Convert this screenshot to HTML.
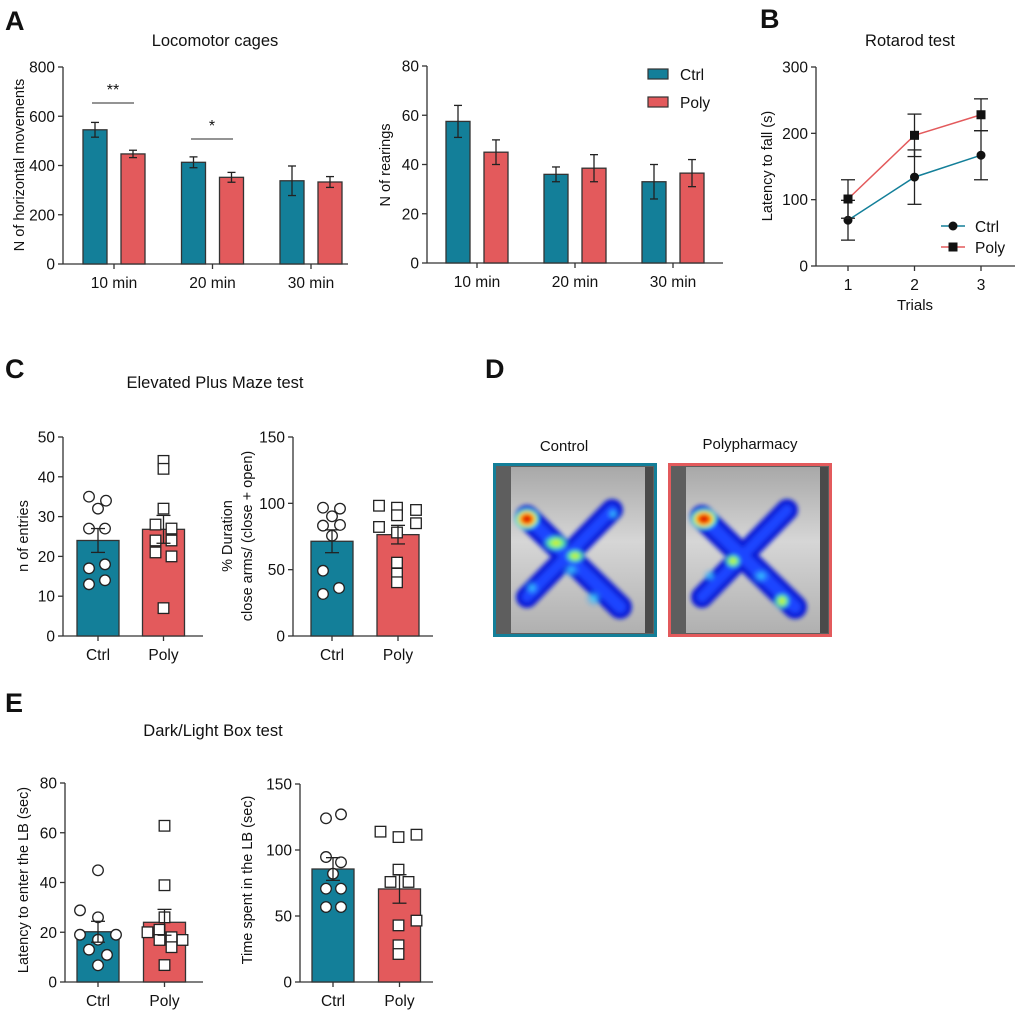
<!DOCTYPE html>
<html><head><meta charset="utf-8"><style>
body{margin:0;background:#fff}
svg text{font-family:"Liberation Sans",Arial,sans-serif;fill:#111}
</style></head><body>
<svg id="fig" width="1020" height="1014" viewBox="0 0 1020 1014" xmlns="http://www.w3.org/2000/svg">
<defs>
<filter id="blur2" filterUnits="userSpaceOnUse" x="-10" y="-10" width="190" height="200"><feGaussianBlur stdDeviation="2"/></filter>
<radialGradient id="hotR"><stop offset="0" stop-color="#b00000"/><stop offset="0.35" stop-color="#ff3a00"/><stop offset="0.6" stop-color="#ffe000"/><stop offset="0.8" stop-color="#30ffd0"/><stop offset="1" stop-color="#30a0ff" stop-opacity="0"/></radialGradient>
<radialGradient id="hotY"><stop offset="0" stop-color="#ffe000"/><stop offset="0.5" stop-color="#60ff90"/><stop offset="1" stop-color="#20a0ff" stop-opacity="0"/></radialGradient>
<radialGradient id="hotC"><stop offset="0" stop-color="#40e0ff"/><stop offset="1" stop-color="#2080ff" stop-opacity="0"/></radialGradient>
<linearGradient id="floor" x1="0" y1="0" x2="0" y2="1"><stop offset="0" stop-color="#a8a8a8"/><stop offset="0.45" stop-color="#d6d6d6"/><stop offset="1" stop-color="#b0b0b0"/></linearGradient>
</defs>
<g id="root"></g>
</svg>
<script>
// ---------- DATA ----------
const locoCategories = ["10 min","20 min","30 min"];
const horizCtrl = [545, 413, 338];
const horizCtrlErr = [30, 22, 60];
const horizPoly = [447, 352, 333];
const horizPolyErr = [15, 20, 22];
const horizTicks = [0,200,400,600,800];

const rearCtrl = [57.5, 36, 33];
const rearCtrlErr = [6.5, 3, 7];
const rearPoly = [45, 38.5, 36.5];
const rearPolyErr = [5, 5.5, 5.5];
const rearTicks = [0,20,40,60,80];

const trials = [1,2,3];
const rotaCtrl = [69, 134, 167];
const rotaCtrlErr = [30, 41, 37];
const rotaPoly = [101, 197, 228];
const rotaPolyErr = [29, 32, 24];
const rotaTicks = [0,100,200,300];

const groupLabels = ["Ctrl","Poly"];
const entriesMeans = [24, 26.8];
const entriesErr = [3, 3.5];
const entriesCtrlPts = [35,34,32,27,27,17,18,13,14];
const entriesPolyPts = [44,42,32,28,27,24,24,21,20,7];
const entriesTicks = [0,10,20,30,40,50];

const durMeans = [71.4, 76.4];
const durErr = [8.6, 7];
const durCtrlPts = [96.7,96,90.2,83.2,83.7,75.6,49.2,31.7,36.2];
const durPolyPts = [98.2,96.7,95,91,82.2,85,78,55.3,47,40.5];
const durTicks = [0,50,100,150];

const latMeans = [20.2, 24];
const latErr = [4.2, 5.2];
const latCtrlPts = [44.9,28.8,26,19,19,17,13,10.9,6.7];
const latPolyPts = [62.8,38.9,26,20,21,18,16.9,16.9,14,6.8];
const latTicks = [0,20,40,60,80];

const timeMeans = [85.6, 70.5];
const timeErr = [8.6, 10.8];
const timeCtrlPts = [124,127,94.7,90.7,82,70.7,70.7,56.8,56.8];
const timePolyPts = [113.9,109.8,111.6,85.1,75.8,75.8,46.5,42.9,27.8,21.2];
const timeTicks = [0,50,100,150];

// ---------- HELPERS ----------
const TEAL="#137f99", RED="#e35a5c", NS="http://www.w3.org/2000/svg";
const root=document.getElementById('root');
function mk(tag,attrs,parent,text){const e=document.createElementNS(NS,tag);for(const k in attrs)e.setAttribute(k,attrs[k]);if(text!==undefined)e.textContent=text;(parent||root).appendChild(e);return e;}
function txt(x,y,s,size,anchor,name,extra){const t=mk('text',Object.assign({x:x,y:y,'font-size':size,'text-anchor':anchor||'middle'},extra||{}),root,s);


return t;}
function line(x1,y1,x2,y2,c,w,name,g){const l=mk('line',{x1,y1,x2,y2,stroke:c||'#333','stroke-width':w||1.3},g);


return l;}

function yAxis(ax,ticks,name,xEnd){
  const g=mk('g',{});
  
  
  const y0=ax.sy(ticks[0]), y1=ax.sy(ticks[ticks.length-1]);
  line(ax.x0,y0,ax.x0,y1,'#333',1.3,'y-axis-line',g);
  ticks.forEach(v=>{const y=ax.sy(v);line(ax.x0-5,y,ax.x0,y,'#333',1.3,'y-tick',g);
    const t=mk('text',{x:ax.x0-8,y:y+5.5,'font-size':15.5,'text-anchor':'end'},g,String(v));
    
    });
  line(ax.x0,y0,xEnd,y0,'#333',1.3,'x-axis-line',g);
}
function scale(top,bot,max){return v=>bot-(v/max)*(bot-top);}
function errbar(x,yv,ye,sy,g,cap){line(x,sy(yv+ye),x,sy(yv-ye),'#222',1.3,'error-bar',g);
 line(x-cap,sy(yv+ye),x+cap,sy(yv+ye),'#222',1.3,'error-cap',g);line(x-cap,sy(yv-ye),x+cap,sy(yv-ye),'#222',1.3,'error-cap',g);}

function groupedBars(o){
  const ax={x0:o.x0,sy:scale(o.top,o.bot,o.max)};
  yAxis(ax,o.ticks,o.name+'-y-axis',o.xEnd);
  o.cats.forEach((c,i)=>{const cx=o.cx0+i*o.step;
    line(cx,o.bot,cx,o.bot+5,'#333',1.3,'x-tick');
    txt(cx,o.bot+24,c,15.5,'middle','x-tick-label');
    [[o.ctrl,o.ctrlE,TEAL,-31,'ctrl'],[o.poly,o.polyE,RED,7,'poly']].forEach(s=>{
      const v=s[0][i],e=s[1][i];
      const r=mk('rect',{x:cx+s[3],y:ax.sy(v),width:24,height:o.bot-ax.sy(v),fill:s[2],stroke:'#333','stroke-width':1.3});
      
      
      errbar(cx+s[3]+12,v,e,ax.sy,root,4);
    });
  });
  return ax;
}

function dotBars(o){
  const ax={x0:o.x0,sy:scale(o.top,o.bot,o.max)};
  yAxis(ax,o.ticks,o.name+'-y-axis',o.xEnd);
  const cols=[TEAL,RED];
  groupLabels.forEach((gname,i)=>{const cx=o.cx[i];
    line(cx,o.bot,cx,o.bot+5,'#333',1.3,'x-tick');
    txt(cx,o.bot+24,gname,15.5,'middle','x-tick-label');
    const v=o.means[i];
    const r=mk('rect',{x:cx-21,y:ax.sy(v),width:42,height:o.bot-ax.sy(v),fill:cols[i],stroke:'#333','stroke-width':1.3});
    
    
  });
  const pts=[o.cpts,o.ppts];
  pts.forEach((arr,i)=>{arr.forEach((v,j)=>{const x=o.cx[i]+o.offs[i][j], y=ax.sy(v);
    let m;
    if(i===0){m=mk('circle',{cx:x,cy:y,r:5.3,fill:'#fff',stroke:'#222','stroke-width':1.3});}
    else{m=mk('rect',{x:x-5.3,y:y-5.3,width:10.6,height:10.6,fill:'#fff',stroke:'#222','stroke-width':1.3});}
    
    
  });});
  groupLabels.forEach((g,i)=>errbar(o.cx[i],o.means[i],o.errs[i],ax.sy,root,7));
}
function vlabel(x,y,s,name,size){const t=txt(0,0,s,size||14.5,'middle',name);t.setAttribute('transform','translate('+x+','+y+') rotate(-90)');}

// ---------- PANEL A ----------
txt(5,30,'A',27,'start','panel-label-a',{'font-weight':'bold'});
txt(215,46,'Locomotor cages',16.5,'middle','title-locomotor');
groupedBars({name:'horizontal',x0:63,xEnd:348,top:67,bot:264,max:800,ticks:horizTicks,cats:locoCategories,cx0:114,step:98.5,ctrl:horizCtrl,ctrlE:horizCtrlErr,poly:horizPoly,polyE:horizPolyErr});
vlabel(24,165,'N of horizontal movements','y-axis-title-horizontal');
line(92,103,134,103,'#555',1.2,'sig-line-10min');
txt(113,95,'**',16,'middle','sig-10min');
line(191,139,233,139,'#555',1.2,'sig-line-20min');
txt(212,131,'*',16,'middle','sig-20min');

groupedBars({name:'rearings',x0:427,xEnd:723,top:66,bot:263,max:80,ticks:rearTicks,cats:locoCategories,cx0:477,step:98,ctrl:rearCtrl,ctrlE:rearCtrlErr,poly:rearPoly,polyE:rearPolyErr});
vlabel(390,165,'N of rearings','y-axis-title-rearings');
[['Ctrl',TEAL,74],['Poly',RED,102]].forEach(l=>{
  const r=mk('rect',{x:648,y:l[2]-5,width:20,height:10,fill:l[1],stroke:'#333','stroke-width':1.2});
  
  
  txt(680,l[2]+6,l[0],15.5,'start','legend-entry-'+l[0].toLowerCase());
});

// ---------- PANEL B ----------
txt(760,28,'B',27,'start','panel-label-b',{'font-weight':'bold'});
txt(910,46,'Rotarod test',16.5,'middle','title-rotarod');
(function(){
  const ax={x0:816,sy:scale(67,266,300)};
  yAxis(ax,rotaTicks,'rotarod-y-axis',1015);
  const sx=t=>848+(t-1)*66.5;
  trials.forEach(t=>{line(sx(t),266,sx(t),271,'#333',1.3,'x-tick');txt(sx(t),290,String(t),15.5,'middle','x-tick-label');});
  txt(915,310,'Trials',15,'middle','x-axis-title-trials');
  vlabel(772,166,'Latency to fall (s)','y-axis-title-rotarod');
  [[rotaCtrl,rotaCtrlErr,TEAL,'ctrl'],[rotaPoly,rotaPolyErr,RED,'poly']].forEach(s=>{
    const p=mk('polyline',{points:trials.map((t,i)=>sx(t)+','+ax.sy(s[0][i])).join(' '),fill:'none',stroke:s[2],'stroke-width':1.5});
    
    
    trials.forEach((t,i)=>{errbar(sx(t),s[0][i],s[1][i],ax.sy,root,7);
      let m;
      if(s[3]==='ctrl') m=mk('circle',{cx:sx(t),cy:ax.sy(s[0][i]),r:4.5,fill:'#111'});
      else m=mk('rect',{x:sx(t)-4.5,y:ax.sy(s[0][i])-4.5,width:9,height:9,fill:'#111'});
      
      
    });
  });
  [['Ctrl',TEAL,226,'c'],['Poly',RED,247,'s']].forEach(l=>{
    line(941,l[2],965,l[2],l[1],1.5,'legend-line-'+l[0].toLowerCase());
    let m=l[3]==='c'?mk('circle',{cx:953,cy:l[2],r:4.5,fill:'#111'}):mk('rect',{x:948.5,y:l[2]-4.5,width:9,height:9,fill:'#111'});
    
    
    txt(975,l[2]+6,l[0],15.5,'start','legend-entry-rotarod-'+l[0].toLowerCase());
  });
})();

// ---------- PANEL C ----------
txt(5,378,'C',27,'start','panel-label-c',{'font-weight':'bold'});
txt(215,388,'Elevated Plus Maze test',16.5,'middle','title-epm');
dotBars({name:'entries',x0:63,xEnd:203,top:437,bot:636,max:50,ticks:entriesTicks,cx:[98,163.5],means:entriesMeans,errs:entriesErr,cpts:entriesCtrlPts,ppts:entriesPolyPts,
  offs:[[-9,8,0,-9,7,-9,7,-9,7],[0,0,0,-8,8,-8,8,-8,8,0]]});
vlabel(28,536,'n of entries','y-axis-title-entries');
dotBars({name:'duration',x0:293,xEnd:433,top:437,bot:636,max:150,ticks:durTicks,cx:[332,398],means:durMeans,errs:durErr,cpts:durCtrlPts,ppts:durPolyPts,
  offs:[[-9,8,0,-9,8,0,-9,-9,7],[-19,-1,18,-1,-19,18,-1,-1,-1,-1]]});
vlabel(232,536,'% Duration','y-axis-title-duration-1');
vlabel(252,536,'close arms/ (close + open)','y-axis-title-duration-2');

// ---------- PANEL E ----------
txt(5,712,'E',27,'start','panel-label-e',{'font-weight':'bold'});
txt(213,736,'Dark/Light Box test',16.5,'middle','title-dlb');
dotBars({name:'latency',x0:65,xEnd:203,top:783,bot:982,max:80,ticks:latTicks,cx:[98,164.5],means:latMeans,errs:latErr,cpts:latCtrlPts,ppts:latPolyPts,
  offs:[[0,-18,0,-18,18,0,-9,9,0],[0,0,0,-17,-5,7,-5,18,7,0]]});
vlabel(28,880,'Latency to enter the LB (sec)','y-axis-title-latency');
dotBars({name:'time',x0:300,xEnd:433,top:784,bot:982,max:150,ticks:timeTicks,cx:[333,399.5],means:timeMeans,errs:timeErr,cpts:timeCtrlPts,ppts:timePolyPts,
  offs:[[-7,8,-7,8,0,-7,8,-7,8],[-19,-1,17,-1,-9,9,17,-1,-1,-1]]});
vlabel(252,880,'Time spent in the LB (sec)','y-axis-title-time');

// ---------- PANEL D ----------
txt(485,378,'D',27,'start','panel-label-d',{'font-weight':'bold'});
txt(564,451,'Control',15,'middle','label-control');
txt(750,449,'Polypharmacy',15,'middle','label-polypharmacy');
function heat(x,y,col,name,hot){
  const g=mk('g',{transform:'translate('+x+','+y+')'});
  
  
  mk('rect',{x:0,y:0,width:164,height:174,fill:'#5e5e5e'},g);
  mk('rect',{x:18,y:4,width:134,height:166,fill:'url(#floor)'},g);
  mk('rect',{x:152,y:4,width:8,height:166,fill:'#4a4a4a'},g);
  const arms=mk('g',{filter:'url(#blur2)'},g);
  mk('line',{x1:34,y1:54,x2:127,y2:144,stroke:'#0c1fd8','stroke-width':24,'stroke-linecap':'round'},arms);
  mk('line',{x1:119,y1:47,x2:34,y2:134,stroke:'#0c1fd8','stroke-width':22,'stroke-linecap':'round'},arms);
  mk('line',{x1:34,y1:54,x2:127,y2:144,stroke:'#1f45ff','stroke-width':12,'stroke-linecap':'round'},arms);
  mk('line',{x1:119,y1:47,x2:34,y2:134,stroke:'#1f45ff','stroke-width':10,'stroke-linecap':'round'},arms);
  hot.forEach(h=>mk('ellipse',{cx:h[0],cy:h[1],rx:h[2],ry:h[3],fill:'url(#'+h[4]+')'},arms));
  const b=mk('rect',{x:1.5,y:1.5,width:161,height:171,fill:'none',stroke:col,'stroke-width':3},g);
  
  
}
heat(493,463,TEAL,'heatmap-control',[[34,56,13,11,'hotR'],[63,80,14,9,'hotY'],[82,93,11,8,'hotY'],[101,135,9,9,'hotC'],[39,125,8,8,'hotC'],[120,51,7,7,'hotC'],[78,107,10,8,'hotC']]);
heat(668,463,RED,'heatmap-polypharmacy',[[36,56,14,11,'hotR'],[65,98,9,8,'hotY'],[114,138,9,9,'hotY'],[42,113,7,7,'hotC'],[93,113,10,8,'hotC']]);
</script>
</body></html>
